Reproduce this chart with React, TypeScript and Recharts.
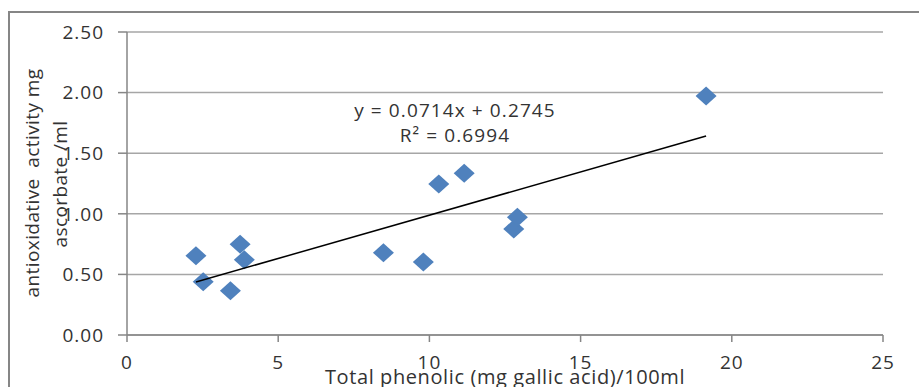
import React from 'react'
import { ScatterChart, Scatter, XAxis, YAxis, CartesianGrid, ReferenceLine } from 'recharts'

// phenolic content vs antioxidative activity
const phenolic = [2.28, 2.52, 3.42, 3.74, 3.88, 8.48, 9.8, 10.31, 11.15, 12.79, 12.91, 19.15]
const activity = [0.654, 0.44, 0.366, 0.748, 0.62, 0.679, 0.602, 1.246, 1.334, 0.875, 0.971, 1.972]

const xTicks = [0, 5, 10, 15, 20, 25]
const yTicks = [0, 0.5, 1, 1.5, 2, 2.5]

// trendline as printed on the chart
const slope = 0.0714
const intercept = 0.2745
const rSquared = '0.6994'

const points = phenolic.map((x, i) => ({ x, y: activity[i] }))
const xMin = Math.min(...phenolic)
const xMax = Math.max(...phenolic)

const font = '"Open Sans", sans-serif'
const gray = '#868686'
const textColor = '#333333'

const Diamond = (props: any) => {
  const { cx, cy } = props
  return (
    <polygon
      points={`${cx},${cy - 9.5} ${cx + 10.5},${cy} ${cx},${cy + 9.5} ${cx - 10.5},${cy}`}
      fill="#4F81BD"
    />
  )
}

const App = () => {
  const tickStyle = { fill: textColor, fontSize: 19, fontFamily: font, letterSpacing: 1 }
  return (
    <div style={{ position: 'absolute', left: 0, top: 0, width: 919, height: 387, overflow: 'hidden', background: '#fff' }}>
      <ScatterChart width={919} height={387} margin={{ top: 32, right: 36, bottom: 22, left: 67 }}>
        <CartesianGrid horizontal={true} vertical={false} stroke="#a6a6a6" strokeWidth={1.5} />
        <XAxis
          type="number"
          dataKey="x"
          domain={[0, 25]}
          ticks={xTicks}
          height={30}
          tickSize={7}
          tickMargin={14}
          axisLine={{ stroke: gray, strokeWidth: 1.5 }}
          tickLine={{ stroke: gray, strokeWidth: 1.5 }}
          tick={tickStyle}
        />
        <YAxis
          type="number"
          dataKey="y"
          domain={[0, 2.5]}
          ticks={yTicks}
          width={60}
          tickSize={9}
          tickMargin={14}
          tickFormatter={(v: number) => v.toFixed(2)}
          axisLine={{ stroke: gray, strokeWidth: 1.5 }}
          tickLine={{ stroke: gray, strokeWidth: 1.5 }}
          tick={tickStyle}
        />
        <Scatter data={points} shape={<Diamond />} isAnimationActive={false} />
        <ReferenceLine
          segment={[
            { x: xMin, y: slope * xMin + intercept },
            { x: xMax, y: slope * xMax + intercept },
          ]}
          stroke="#000"
          strokeWidth={1.5}
          zIndex={700}
        />
      </ScatterChart>
      <svg width={919} height={387} style={{ position: 'absolute', left: 0, top: 0, pointerEvents: 'none' }}>
        <rect x={9} y={12} width={1000} height={500} fill="none" stroke={gray} strokeWidth={2} />
        <g fontFamily={font} fill={textColor} fontSize={19}>
          <text x={455} y={110} textAnchor="middle" dominantBaseline="central" letterSpacing={1.1}>
            {`y = ${slope}x + ${intercept}`}
          </text>
          <text x={455} y={135} textAnchor="middle" dominantBaseline="central" letterSpacing={1.1}>
            {`R² = ${rSquared}`}
          </text>
          <text x={505} y={384} textAnchor="middle" fontSize={20} letterSpacing={0.6}>
            Total phenolic (mg gallic acid)/100ml
          </text>
          <text x={32} y={183} textAnchor="middle" dominantBaseline="central" transform="rotate(-90 32 183)" letterSpacing={0.4}>
            antioxidative{'\u00a0 '}activity mg
          </text>
          <text x={60} y={184} textAnchor="middle" dominantBaseline="central" transform="rotate(-90 60 184)" letterSpacing={0.4}>
            ascorbate /ml
          </text>
        </g>
      </svg>
    </div>
  )
}

export default App
